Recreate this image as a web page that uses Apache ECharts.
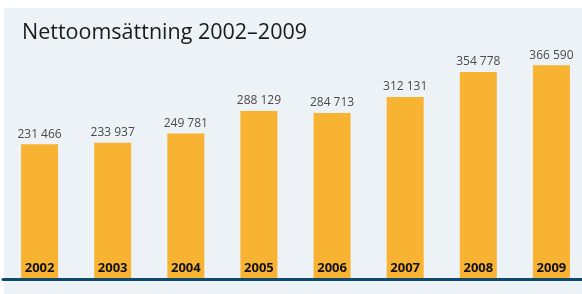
<!DOCTYPE html>
<html>
<head>
<meta charset="utf-8">
<script src="https://cdn.jsdelivr.net/npm/echarts@6/dist/echarts.min.js"></script>
<style>
  html, body { margin: 0; padding: 0; background: #fff; overflow: hidden; }
  #chart { width: 590px; height: 294px; }
</style>
</head>
<body>
<div id="chart"></div>
<script>
// Nettoomsättning per år
var years = ['2002', '2003', '2004', '2005', '2006', '2007', '2008', '2009']
var omsattning = [231466, 233937, 249781, 288129, 284713, 312131, 354778, 366590]

function fmt (v) {
  return String(v).replace(/\B(?=(\d{3})+(?!\d))/g, ' ')
}

var myChart = echarts.init(document.getElementById('chart'))
myChart.setOption({
  animation: false,
  backgroundColor: '#ffffff',
  graphic: [{
    type: 'rect',
    z: -10,
    shape: {x: 4, y: 8, width: 590, height: 286},
    style: {fill: '#edf2f7'}
  }],
  title: {
    text: 'Nettoomsättning 2002–2009',
    left: 17,
    top: 17,
    textStyle: {fontFamily: 'Open Sans', fontSize: 21.5, fontWeight: 'normal', color: '#1a1a1a'}
  },
  grid: {left: 3, width: 585, top: 45.6, bottom: 14.5},
  xAxis: {
    type: 'category',
    data: years,
    z: 10,
    axisLine: {lineStyle: {color: '#0d4a6e', width: 3}},
    axisTick: {show: false},
    axisLabel: {
      inside: true,
      margin: 5,
      fontFamily: 'Open Sans',
      fontSize: 13,
      fontWeight: 'bold',
      color: '#111111'
    }
  },
  yAxis: {
    type: 'value',
    min: 0,
    max: 400000,
    show: false,
    splitLine: {show: false}
  },
  series: [{
    type: 'bar',
    data: omsattning,
    barWidth: 37,
    itemStyle: {color: '#f8b333'},
    label: {
      show: true,
      position: 'top',
      distance: 4,
      fontFamily: 'Open Sans',
      fontSize: 12,
      color: '#4a4a4a',
      formatter: function (p) { return fmt(p.value) }
    }
  }]
})
</script>
</body>
</html>
